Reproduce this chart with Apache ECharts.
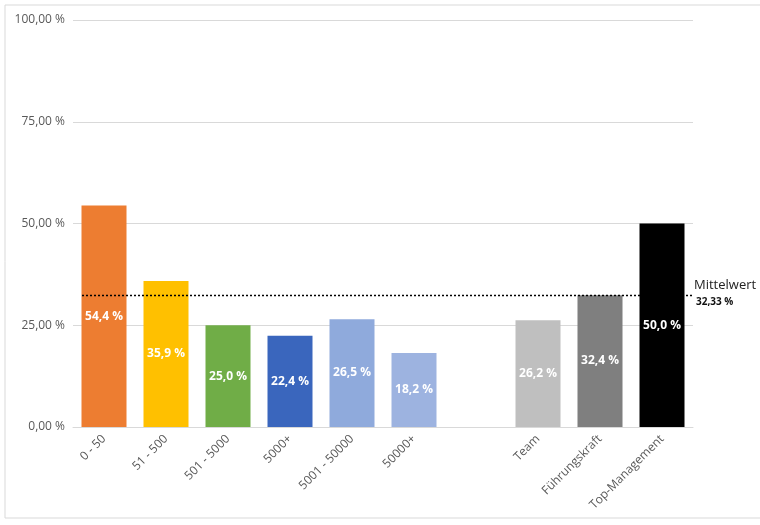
<!DOCTYPE html>
<html>
<head>
<meta charset="utf-8">
<script src="https://cdn.jsdelivr.net/npm/echarts@6/dist/echarts.min.js"></script>
<style>
  html, body { margin: 0; padding: 0; background: #fff; }
  #main { width: 760px; height: 525px; }
</style>
</head>
<body>
<div id="main"></div>
<script>
  // Kategorien und Werte
  const categories = ["0 - 50", "51 - 500", "501 - 5000", "5000+", "5001 - 50000", "50000+", "", "Team", "Führungskraft", "Top-Management"];
  const values = [54.4, 35.9, 25.0, 22.4, 26.5, 18.2, null, 26.2, 32.4, 50.0];
  const colors = ["#ED7D31", "#FFC000", "#70AD47", "#3A66BD", "#8FAADC", "#9DB3E0", "#fff", "#BFBFBF", "#7F7F7F", "#000000"];
  const mean = 32.33;

  const fmt = v => v.toFixed(1).replace(".", ",") + " %";

  const chart = echarts.init(document.getElementById("main"));
  chart.setOption({
    animation: false,
    grid: { left: 73, right: 67, top: 20, bottom: 98 },
    graphic: [
      { type: "rect", shape: { x: 5, y: 5, width: 760, height: 513 }, style: { fill: "none", stroke: "#d9d9d9", lineWidth: 1 } },
      { type: "text", left: 694, top: 279, style: { text: "Mittelwert", fontSize: 13, fill: "#222", fontFamily: "Open Sans" } },
      { type: "text", left: 696, top: 297, style: { text: "32,33 %", fontSize: 10, fontWeight: "bold", fill: "#111", fontFamily: "Open Sans" } }
    ],
    xAxis: {
      type: "category",
      data: categories,
      axisTick: { show: false },
      axisLine: { lineStyle: { color: "#d9d9d9" } },
      axisLabel: { rotate: 45, color: "#595959", fontSize: 12, interval: 0, fontFamily: "Open Sans", margin: 10 }
    },
    yAxis: {
      type: "value",
      min: 0, max: 100, interval: 25,
      axisLabel: { formatter: v => v.toFixed(2).replace(".", ",") + " %", color: "#595959", fontSize: 12, fontFamily: "Open Sans" },
      splitLine: { lineStyle: { color: "#d9d9d9" } }
    },
    series: [{
      type: "bar",
      barWidth: 45,
      data: values.map((v, i) => ({ value: v, itemStyle: { color: colors[i] } })),
      label: {
        show: true, position: "inside", color: "#fff", fontWeight: "bold", fontSize: 12, fontFamily: "Open Sans",
        formatter: p => p.value == null ? "" : fmt(p.value)
      },
      markLine: {
        symbol: "none", silent: true,
        label: { show: false },
        lineStyle: { color: "#000", type: [2, 2], width: 1.3 },
        data: [[{ coord: [0, mean], x: 82 }, { coord: [9, mean], x: 692 }]]
      }
    }]
  });
</script>
</body>
</html>
